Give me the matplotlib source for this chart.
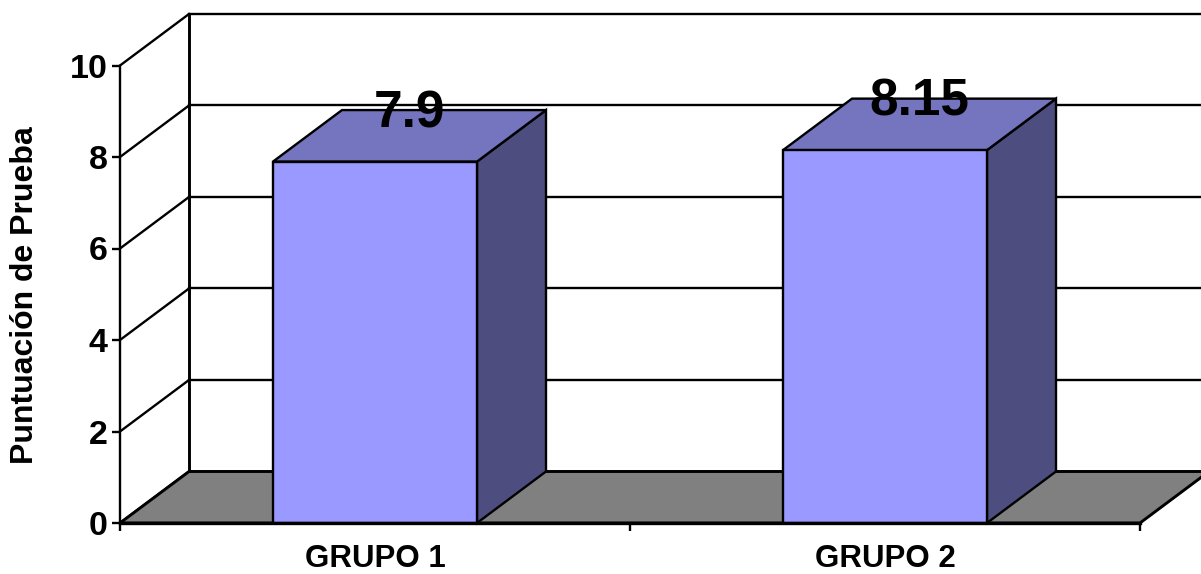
import matplotlib
matplotlib.use("Agg")
import matplotlib.pyplot as plt
from matplotlib.patches import Polygon

# =========================
# datos
# =========================
categorias = ["GRUPO 1", "GRUPO 2"]
puntuaciones = [7.9, 8.15]
y_ticks = [0, 2, 4, 6, 8, 10]
y_label = "Puntuación de Prueba"

# =========================
# estilo
# =========================
plt.rcParams["font.family"] = ["Liberation Sans", "DejaVu Sans"]
plt.rcParams["font.weight"] = "bold"

FRONT = "#9999FF"
TOP = "#7474BF"
SIDE = "#4D4D80"
FLOOR = "#808080"
LW = 1.7

# profundidad del efecto 3D (en unidades de datos)
DX = 0.1353
DY = 1.126
BAR_W = 0.4

fig = plt.figure(figsize=(12.01, 5.74), dpi=100)
ax = fig.add_axes([120 / 1201, 51 / 574, 1020 / 1201, 457.5 / 574])
ax.set_xlim(0, len(categorias))
ax.set_ylim(0, 10)

# pared del fondo: líneas de cuadrícula y pared lateral
ymax = y_ticks[-1]
for v in y_ticks:
    if v > 0:
        ax.plot([DX, len(categorias) + DX], [v + DY, v + DY], color="black",
                lw=LW, zorder=1, clip_on=False)
    ax.plot([0, DX], [v, v + DY], color="black", lw=LW, zorder=1, clip_on=False)
ax.plot([DX, DX], [DY, ymax + DY], color="black", lw=LW + 0.4, zorder=1, clip_on=False)

# suelo
n = len(categorias)
suelo = Polygon([(0, 0), (n, 0), (n + DX, DY), (DX, DY)], closed=True,
                facecolor=FLOOR, edgecolor="black", lw=LW + 0.4, zorder=2, clip_on=False)
ax.add_patch(suelo)

# barras 3D
for i, v in enumerate(puntuaciones):
    c = i + 0.5
    x0, x1 = c - BAR_W / 2, c + BAR_W / 2
    lado = Polygon([(x1, 0), (x1 + DX, DY), (x1 + DX, v + DY), (x1, v)],
                   closed=True, facecolor=SIDE, edgecolor="black", lw=LW, zorder=3, clip_on=False)
    tapa = Polygon([(x0, v), (x1, v), (x1 + DX, v + DY), (x0 + DX, v + DY)],
                   closed=True, facecolor=TOP, edgecolor="black", lw=LW, zorder=3, clip_on=False)
    frente = Polygon([(x0, 0), (x1, 0), (x1, v), (x0, v)],
                     closed=True, facecolor=FRONT, edgecolor="black", lw=LW, zorder=4, clip_on=False)
    for p in (lado, tapa, frente):
        ax.add_patch(p)
    ax.annotate(f"{v:g}", xy=(c + DX / 2, v + DY), xytext=(0, -12.5),
                textcoords="offset points", ha="center", va="baseline",
                fontsize=37, fontweight="bold", zorder=6, annotation_clip=False)

# ejes
for s in ("top", "right"):
    ax.spines[s].set_visible(False)
ax.spines["left"].set_linewidth(LW)
ax.spines["bottom"].set_linewidth(2.4)
ax.spines["left"].set_zorder(5)
ax.spines["bottom"].set_zorder(5)

ax.set_yticks(y_ticks)
ax.set_yticklabels([str(t) for t in y_ticks])
ax.tick_params(axis="y", direction="out", length=6, width=LW, pad=3, labelsize=24.5)

ax.set_xticks(range(n + 1))
ax.set_xticklabels([])
ax.set_xticks([i + 0.5 for i in range(n)], minor=True)
ax.set_xticklabels(categorias, minor=True)
ax.tick_params(axis="x", which="major", direction="out", length=6, width=LW)
ax.tick_params(axis="x", which="minor", length=0, pad=15, labelsize=22.5)

fig.text(25 / 1201, 1 - 295 / 574, y_label, rotation=90, ha="center", va="center",
         fontsize=23, fontweight="bold")

fig.savefig("out.png", dpi=100)
plt.close(fig)
